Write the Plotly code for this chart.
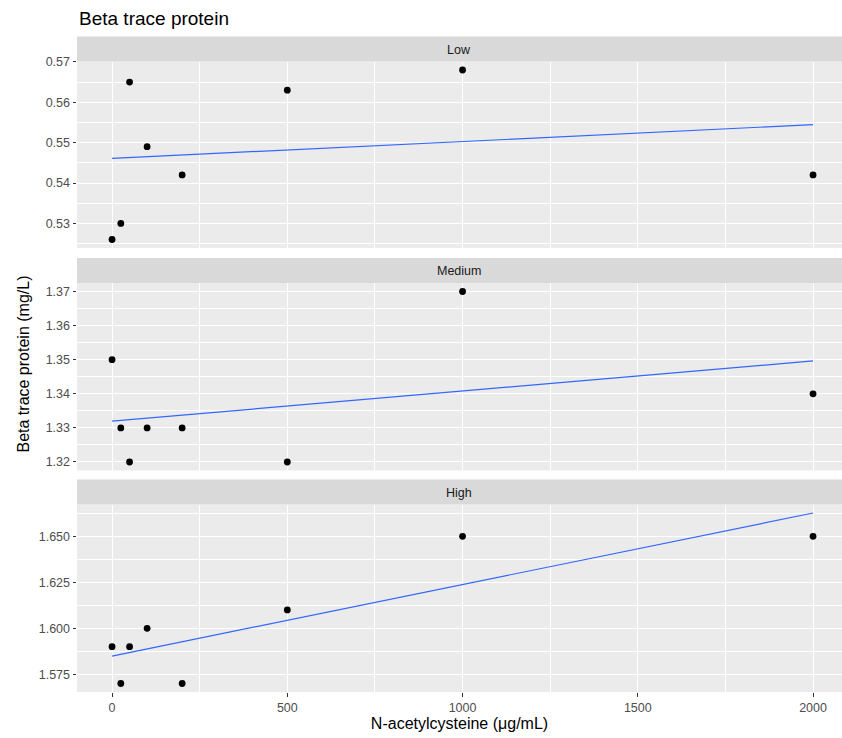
import numpy as np
import plotly.graph_objects as go

# ---------------- data ----------------
nac_dose = [0, 25, 50, 100, 200, 500, 1000, 2000]
panels = ["Low", "Medium", "High"]
btp_low = [0.526, 0.530, 0.565, 0.549, 0.542, 0.563, 0.568, 0.542]
btp_medium = [1.35, 1.33, 1.32, 1.33, 1.33, 1.32, 1.37, 1.34]
btp_high = [1.59, 1.57, 1.59, 1.60, 1.57, 1.61, 1.65, 1.65]
x_ticks = [0, 500, 1000, 1500, 2000]
series = {"Low": btp_low, "Medium": btp_medium, "High": btp_high}

# ---------------- layout geometry (pixels) ----------------
W, H = 842, 738
ML, MR, MT, MB = 77, 0, 36, 46
PH = H - MT - MB
# (strip_top, panel_top, panel_bottom) in pixels from the top
geo = {"Low": (36.5, 61.5, 248.0), "Medium": (258.0, 283.0, 470.5), "High": (479.5, 504.5, 692.0)}
ytick_cfg = {"Low": (0.01, ".2f"), "Medium": (0.01, ".2f"), "High": (0.025, ".3f")}

def py2paper(py):
    return (H - MB - py) / PH

BG = "#EBEBEB"
STRIP = "#D9D9D9"
FONT = "Liberation Sans, Arial, sans-serif"
TICK_SIZE = 12.5

fig = go.Figure()
shapes, annotations = [], []
x = np.array(nac_dose, dtype=float)
xr = [x.min() - 0.05 * (x.max() - x.min()), None]
xr[1] = xr[0] + (W - ML - MR) / 0.3505

for i, name in enumerate(panels):
    k = i + 1
    xa = "x" if k == 1 else f"x{k}"
    ya = "y" if k == 1 else f"y{k}"
    y = np.array(series[name], dtype=float)
    slope, icpt = np.polyfit(x, y, 1)
    xs = np.linspace(x.min(), x.max(), 80)
    ys = icpt + slope * xs
    lo = min(y.min(), ys.min()); hi = max(y.max(), ys.max())
    yr = [lo - 0.05 * (hi - lo), hi + 0.05 * (hi - lo)]

    fig.add_trace(go.Scatter(x=x, y=y, mode="markers", xaxis=xa, yaxis=ya,
                             marker=dict(color="black", size=6.8), showlegend=False,
                             hoverinfo="x+y"))
    fig.add_trace(go.Scatter(x=xs, y=ys, mode="lines", xaxis=xa, yaxis=ya,
                             line=dict(color="#3366FF", width=1.2), showlegend=False))

    st, pt, pb = geo[name]
    dt, fmt = ytick_cfg[name]
    bottom = (k == len(panels))
    fig.update_layout(**{
        ("xaxis" if k == 1 else f"xaxis{k}"): dict(
            domain=[0, 1], anchor=ya, range=xr, tickvals=x_ticks,
            showticklabels=bottom, ticks="outside" if bottom else "",
            ticklen=3.5, tickwidth=1, tickcolor="#333333",
            tickfont=dict(size=TICK_SIZE, color="#4D4D4D", family=FONT),
            showgrid=True, gridcolor="white", gridwidth=1.3, zeroline=False,
            minor=dict(dtick=250, tick0=250, showgrid=True, gridcolor="white", gridwidth=0.6, ticks=""),
            showline=False,
            title=dict(text="N-acetylcysteine (μg/mL)" if bottom else "",
                       font=dict(size=16, color="black", family=FONT), standoff=4),
            matches="x" if k > 1 else None,
        ),
        ("yaxis" if k == 1 else f"yaxis{k}"): dict(
            domain=[py2paper(pb), py2paper(pt)], anchor=xa, range=yr,
            dtick=dt, tick0=0, tickformat=fmt, ticks="outside", ticklen=3.5, tickwidth=1,
            tickcolor="#333333", tickfont=dict(size=TICK_SIZE, color="#4D4D4D", family=FONT),
            showgrid=True, gridcolor="white", gridwidth=1.3, zeroline=False,
            minor=dict(dtick=dt / 2, tick0=dt / 2, showgrid=True, gridcolor="white", gridwidth=0.6, ticks=""),
            showline=False,
        ),
    })
    # panel background
    shapes.append(dict(type="rect", xref="paper", yref="paper", x0=0, x1=1,
                       y0=py2paper(pb), y1=py2paper(pt), fillcolor=BG, line=dict(width=0), layer="below"))
    # strip
    shapes.append(dict(type="rect", xref="paper", yref="paper", x0=0, x1=1,
                       y0=py2paper(pt), y1=py2paper(st), fillcolor=STRIP, line=dict(width=0), layer="below"))
    annotations.append(dict(text=name, xref="paper", yref="paper", x=(459 - ML) / (W - ML - MR),
                            y=py2paper((st + pt) / 2 + 0.8), xanchor="center", yanchor="middle", showarrow=False,
                            font=dict(size=TICK_SIZE, color="#1A1A1A", family=FONT)))

annotations.append(dict(text="Beta trace protein", xref="paper", yref="paper", x=0, y=py2paper(18),
                        xanchor="left", yanchor="middle", showarrow=False,
                        font=dict(size=19, color="black", family=FONT)))
annotations.append(dict(text="Beta trace protein (mg/L)", xref="paper", yref="paper",
                        x=0, xshift=-(ML - 23), y=py2paper(364.5), textangle=-90,
                        xanchor="center", yanchor="middle", showarrow=False,
                        font=dict(size=16, color="black", family=FONT)))

fig.update_layout(width=W, height=H, margin=dict(l=ML, r=MR, t=MT, b=MB),
                  paper_bgcolor="white", plot_bgcolor="rgba(0,0,0,0)",
                  shapes=shapes, annotations=annotations,
                  font=dict(family=FONT), showlegend=False)
fig.write_html("out.html")
